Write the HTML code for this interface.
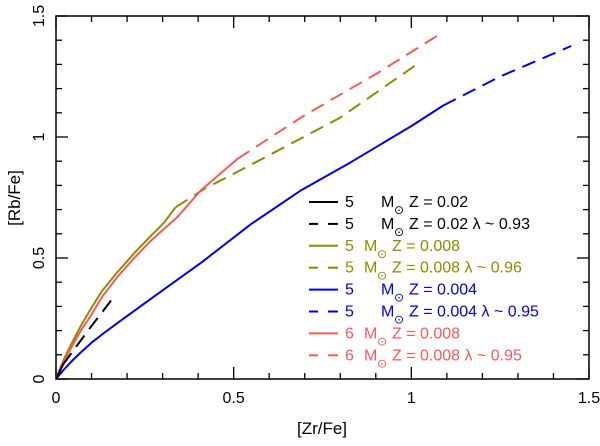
<!DOCTYPE html>
<html><head><meta charset="utf-8"><style>
body{margin:0;background:#fff;}
svg text{font-family:"Liberation Sans","DejaVu Sans",sans-serif;}
</style></head><body>
<svg id="chart" width="600" height="441" xmlns="http://www.w3.org/2000/svg"></svg>
<script>
const xTicks=[0,0.5,1,1.5];
const xTickLabels=["0","0.5","1","1.5"];
const yTicks=[0,0.5,1,1.5];
const yTickLabels=["0","0.5","1","1.5"];
const blackSolidX=[0,0.02];
const blackSolidY=[0,0.06];
const blackDashX=[0.02,0.09,0.158];
const blackDashY=[0.06,0.2,0.33];
const oliveSolidX=[0,0.01,0.025,0.045,0.07,0.096,0.13,0.172,0.22,0.266,0.304,0.337];
const oliveSolidY=[0,0.04,0.09,0.15,0.22,0.285,0.365,0.44,0.52,0.59,0.646,0.71];
const oliveDashX=[0.337,0.417,0.568,0.8,1.015];
const oliveDashY=[0.71,0.785,0.9,1.08,1.3];
const redSolidX=[0,0.01,0.025,0.045,0.07,0.096,0.13,0.172,0.22,0.266,0.342,0.408,0.511];
const redSolidY=[0,0.035,0.08,0.135,0.2,0.257,0.34,0.42,0.5,0.57,0.67,0.78,0.91];
const redDashX=[0.511,0.7,0.9,1.09];
const redDashY=[0.91,1.09,1.26,1.434];
const blueSolidX=[0,0.02,0.045,0.07,0.1,0.135,0.172,0.266,0.408,0.549,0.69,0.83,1.0,1.09];
const blueSolidY=[0,0.035,0.075,0.11,0.15,0.19,0.23,0.33,0.48,0.64,0.78,0.896,1.045,1.13];
const blueDashX=[1.09,1.25,1.45];
const blueDashY=[1.13,1.25,1.376];
const L=56,R=589,T=16,B=379;
const sx=v=>L+(v/1.5)*(R-L);
const sy=v=>B-(v/1.5)*(B-T);
const svg=document.getElementById('chart');
const NS='http://www.w3.org/2000/svg';
function mk(tag,attrs,parent){const e=document.createElementNS(NS,tag);for(const k in attrs)e.setAttribute(k,attrs[k]);(parent||svg).appendChild(e);return e;}
const frame=mk('rect',{x:L,y:T,width:R-L,height:B-T,fill:'none',stroke:'#000','stroke-width':1.5});


for(let i=0;i<=15;i++){const v=i/10;const len=(i%5===0)?12:6;
 const t1=mk('line',{x1:sx(v),x2:sx(v),y1:B,y2:B-len,stroke:'#000','stroke-width':1.3});
 
 const t2=mk('line',{x1:sx(v),x2:sx(v),y1:T,y2:T+len,stroke:'#000','stroke-width':1.3});
 
 const t3=mk('line',{x1:L,x2:L+len,y1:sy(v),y2:sy(v),stroke:'#000','stroke-width':1.3});
 
 const t4=mk('line',{x1:R,x2:R-len,y1:sy(v),y2:sy(v),stroke:'#000','stroke-width':1.3});
 
}
xTicks.forEach((v,i)=>{const t=mk('text',{x:sx(v),y:403,'text-anchor':'middle','font-size':16});t.textContent=xTickLabels[i];
 });
yTicks.forEach((v,i)=>{const t=mk('text',{x:0,y:0,'text-anchor':'middle','font-size':16,transform:`translate(44,${sy(v)}) rotate(-90)`});t.textContent=yTickLabels[i];
 });
const xt=mk('text',{x:322,y:434,'text-anchor':'middle','font-size':17});xt.textContent='[Zr/Fe]';

const yt=mk('text',{x:0,y:0,'text-anchor':'middle','font-size':17,transform:'translate(20,198) rotate(-90)'});yt.textContent='[Rb/Fe]';

function series(xs,ys,color,dash,name){
 const d=xs.map((x,i)=>(i?'L':'M')+sx(x).toFixed(1)+','+sy(ys[i]).toFixed(1)).join(' ');
 const p=mk('path',{d:d,fill:'none',stroke:color,'stroke-width':2,'stroke-linejoin':'round','stroke-dasharray':dash?'14,8':'none'});
 
 
}
const OL='#8c8c00',BL='#0000e6',RD='#f55a5a';
series(blueSolidX,blueSolidY,BL,false,'series-5msun-z0004');
series(blueDashX,blueDashY,BL,true,'series-5msun-z0004-lambda');
series(oliveDashX,oliveDashY,OL,true,'series-5msun-z0008-lambda');
series(redDashX,redDashY,RD,true,'series-6msun-z0008-lambda');
series(oliveSolidX,oliveSolidY,OL,false,'series-5msun-z0008');
series(redSolidX,redSolidY,RD,false,'series-6msun-z0008');
series(blackSolidX,blackSolidY,'#000',false,'series-5msun-z002');
series(blackDashX,blackDashY,'#000',true,'series-5msun-z002-lambda');
const leg=[
 ['#000',false,'5','381','Z = 0.02'],
 ['#000',true,'5','381','Z = 0.02 λ ~ 0.93'],
 [OL,false,'5','364','Z = 0.008'],
 [OL,true,'5','364','Z = 0.008 λ ~ 0.96'],
 [BL,false,'5','381','Z = 0.004'],
 [BL,true,'5','381','Z = 0.004 λ ~ 0.95'],
 [RD,false,'6','364','Z = 0.008'],
 [RD,true,'6','364','Z = 0.008 λ ~ 0.95']];
leg.forEach((r,i)=>{const y=202+i*21.9;
 const g=mk('g',{});
 if(r[1]){mk('line',{x1:309,x2:318,y1:y,y2:y,stroke:r[0],'stroke-width':2},g);mk('line',{x1:328,x2:338,y1:y,y2:y,stroke:r[0],'stroke-width':2},g);}
 else mk('line',{x1:309,x2:338,y1:y,y2:y,stroke:r[0],'stroke-width':2},g);
 const t1=mk('text',{x:345,y:y+5,'font-size':16,fill:r[0]},g);t1.textContent=r[2];
 const m=mk('text',{x:+r[3],y:y+5,'font-size':16,fill:r[0]},g);m.textContent='M';
 const s=mk('text',{x:+r[3]+13,y:y+12,'font-size':12,fill:r[0]},g);s.textContent='⊙';
 const t2=mk('text',{x:+r[3]+28,y:y+5,'font-size':16,fill:r[0]},g);t2.textContent=r[4];
});
</script>
</body></html>
